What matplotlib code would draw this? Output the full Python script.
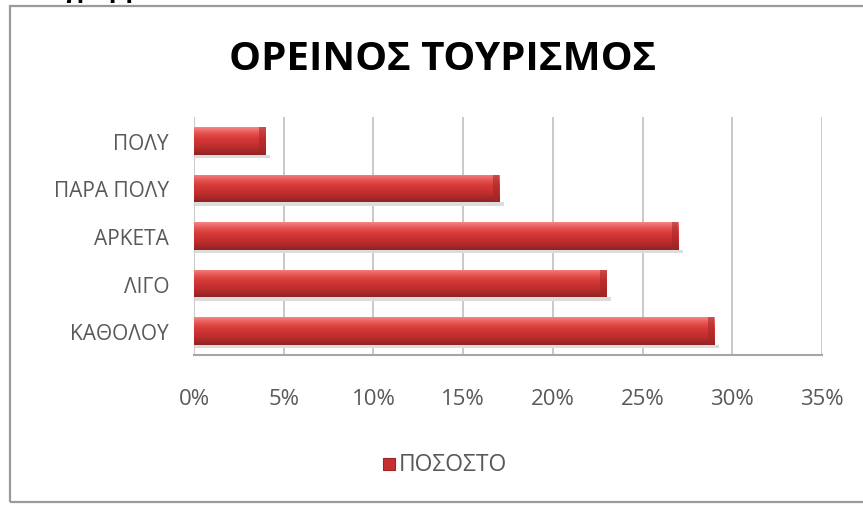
import numpy as np
import matplotlib
matplotlib.use("Agg")
import matplotlib.pyplot as plt
from matplotlib.colors import LinearSegmentedColormap
from matplotlib.patches import Rectangle

plt.rcParams['font.family'] = ['Open Sans', 'DejaVu Sans']

categories = ["ΠΟΛΥ", "ΠΑΡΑ ΠΟΛΥ", "ΑΡΚΕΤΑ", "ΛΙΓΟ", "ΚΑΘΟΛΟΥ"]
values = [4, 17, 27, 23, 29]
xticks = [0, 5, 10, 15, 20, 25, 30, 35]
title = "ΟΡΕΙΝΟΣ ΤΟΥΡΙΣΜΟΣ"
series_name = "ΠΟΣΟΣΤΟ"
caption = "Διάγραμμα 10"

W, H = 863, 506
fig = plt.figure(figsize=(W / 100, H / 100), dpi=100)
fig.patch.set_facecolor("white")

# outer chart frame (runs off the right edge)
frame = Rectangle((10 / W, 3 / H), 1.2, (H - 10) / H, transform=fig.transFigure,
                  fill=False, edgecolor="#9a9a9a", linewidth=1.6, clip_on=False)
fig.patches.append(frame)

# caption of the document, mostly cut off at the top
fig.text(20 / W, 1 + 3 / H, caption, fontsize=18, fontweight="bold",
         color="black", ha="left", va="baseline")

ax = fig.add_axes([194 / W, 1 - 356 / H, 628 / W, 238 / H])
ax.set_facecolor("none")

y = np.arange(len(categories))
bar_h = 0.58
bars = ax.barh(y, values, height=bar_h, color="#c83030", zorder=3, linewidth=0)

# cylinder shading
cyl = LinearSegmentedColormap.from_list(
    "cyl", ["#f58583", "#e65553", "#d63b39", "#c83131", "#b02a2a", "#8f2323"])
grad = np.linspace(0, 1, 64).reshape(-1, 1)
for b in bars:
    x0, y0 = b.get_xy()
    w, h = b.get_width(), b.get_height()
    # soft shadow under the bar
    ax.add_patch(Rectangle((x0, y0 + h), w + 0.25, 0.07, color="#dcdcdc",
                           zorder=2, linewidth=0))
    im = ax.imshow(grad, extent=(x0, x0 + w, y0 + h, y0), aspect="auto",
                   cmap=cyl, origin="upper", zorder=4, interpolation="bilinear")
    im.set_clip_path(b)
    # bevelled end cap
    ax.add_patch(Rectangle((x0 + w - 0.35, y0), 0.35, h, color="#a42626",
                           alpha=0.55, zorder=5, linewidth=0))

ax.set_xlim(0, 35)
ax.set_ylim(len(categories) - 0.5, -0.5)

ax.set_xticks(xticks)
ax.set_xticklabels([f"{t}%" for t in xticks], fontsize=16, color="#595959")
ax.set_yticks(y)
ax.set_yticklabels(categories, fontsize=15, color="#595959")
ax.tick_params(axis="x", length=0, pad=24)
ax.tick_params(axis="y", length=0, pad=18)

ax.grid(axis="x", color="#c0c0c0", linewidth=1.2, zorder=1)
ax.set_axisbelow(True)
for s in ["top", "right"]:
    ax.spines[s].set_visible(False)
ax.spines["left"].set_color("#cccccc")
ax.spines["bottom"].set_color("#a6a6a6")
ax.spines["bottom"].set_linewidth(1.5)

fig.text(443 / W, 1 - 60 / H, title, fontsize=29, fontweight="bold",
         ha="center", va="center", color="black")

# legend
leg_sq = Rectangle((383 / W, 1 - 471 / H), 12 / W, 12 / H, transform=fig.transFigure,
                   facecolor="#c83030", edgecolor="#9a2525", linewidth=0.8)
fig.patches.append(leg_sq)
fig.text(399 / W, 1 - 465 / H, series_name, fontsize=16.5, color="#595959",
         ha="left", va="center")

fig.savefig("out.png", dpi=100)
